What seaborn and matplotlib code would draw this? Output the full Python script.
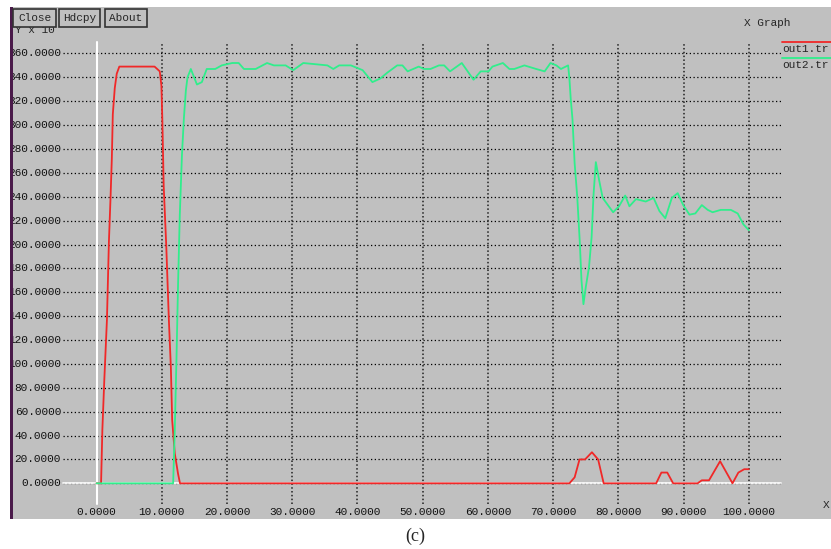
import matplotlib
matplotlib.use("Agg")
import matplotlib.pyplot as plt
import seaborn as sns
from matplotlib.patches import Rectangle

# out1.tr (red)
red_x = [0.0, 0.7, 0.9, 1.2, 1.6, 1.9, 2.15, 2.35, 2.5, 2.8, 3.1, 3.5, 8.9, 9.7, 9.95,
         10.1, 10.3, 10.7, 11.1, 11.4, 11.6, 12.0, 12.5, 12.8, 72.5, 73.3, 74.05, 74.9,
         75.95, 76.9, 77.75, 85.8, 86.6, 87.5, 88.4, 92.15, 92.8, 93.9, 95.6, 97.5, 98.4,
         99.3, 100.0]
red_y = [0, 0, 45, 87, 137, 202, 239, 272, 309, 331, 343, 349, 349, 345, 333,
         303, 249, 198, 136, 97, 53, 25, 8, 0, 0, 5, 20, 20,
         26, 20, 0, 0, 9, 9, 0, 0, 2.5, 2.5, 18.5, 0, 9,
         11.8, 11.8]

# out2.tr (green)
green_x = [0.0, 11.75, 12.0, 12.26, 12.5, 12.77, 13.1, 13.4, 13.7, 13.95, 14.46, 15.4,
           16.15, 16.9, 18.2, 19.2, 20.8, 21.8, 22.6, 24.4, 26.15, 27.2, 29.0, 30.15,
           31.7, 35.4, 36.3, 37.2, 39.0, 40.8, 42.3, 43.5, 44.6, 46.1, 46.9, 47.7, 49.4,
           50.2, 51.2, 52.5, 53.3, 54.2, 56.0, 57.8, 58.9, 60.1, 60.7, 62.3, 63.3, 64.05,
           65.6, 67.4, 68.7, 69.6, 70.5, 71.2, 72.3, 72.5, 72.7, 72.97, 73.3, 73.7, 74.1,
           74.35, 74.65, 75.0, 75.5, 75.9, 76.2, 76.55, 77.05, 77.6, 79.2, 80.1, 81.05,
           81.7, 82.7, 84.2, 85.4, 86.3, 87.2, 88.2, 89.1, 89.95, 90.9, 91.8, 92.8, 93.7,
           94.45, 95.7, 97.25, 98.3, 99.15, 100.0]
green_y = [0, 0, 45, 104, 166, 225, 275, 306, 329, 340, 347, 334,
           336, 347, 347, 350, 352, 352, 347, 347, 352, 350, 350, 346,
           352, 350, 347, 350, 350, 346, 336, 339, 344, 350, 350, 345, 349,
           347, 347, 350, 350, 345, 352, 338, 345, 345, 349, 352, 347, 347,
           350, 347, 345, 352, 350, 347, 350, 339, 322, 305, 268, 240, 201,
           170, 150, 164, 181, 206, 242, 269, 254, 239, 227, 232, 241,
           232, 238, 236, 239, 228, 222, 239, 243, 233, 225, 226, 233, 229,
           227, 229, 229, 226, 217, 212]

x_ticks = [0, 10, 20, 30, 40, 50, 60, 70, 80, 90, 100]
y_ticks = list(range(0, 361, 20))
x_labels = ["%.4f" % v for v in x_ticks]
y_labels = ["%.4f" % v for v in y_ticks]

W, H = 831, 549
BG = "#c0c0c0"
RED = "#f02828"
GREEN = "#30ee8c"
MONO = "Liberation Mono"


def fx(px):
    return px / W


def fy(py):
    return 1 - py / H


sns.set_style("white")
plt.rcParams["font.family"] = ["Liberation Mono", "DejaVu Sans Mono"]

fig = plt.figure(figsize=(W / 100, H / 100), dpi=100)
fig.patch.set_facecolor("white")

# axes covers the whole grey window
ax = fig.add_axes([fx(11), fy(519), fx(831) - fx(11), fy(7) - fy(519)])
ax.set_facecolor(BG)
for s in ax.spines.values():
    s.set_visible(False)
ax.set_xticks([])
ax.set_yticks([])

# pixel -> data mapping of the reference
x0, sx = 96.5, 6.523
y0, sy = 483.3, 1.194
ax.set_xlim((11 - x0) / sx, (831 - x0) / sx)
ax.set_ylim((y0 - 519) / sy, (y0 - 7) / sy)

gx_left, gx_right = (63 - x0) / sx, (781 - x0) / sx
gy_top, gy_bot = (y0 - 42) / sy, (y0 - 504) / sy

for v in y_ticks:
    ax.plot([gx_left, gx_right], [v, v], color="black", lw=0.9,
            ls=(0, (1, 2)), zorder=1)
for v in x_ticks:
    ax.plot([v, v], [gy_bot, gy_top], color="#222222", lw=1.1,
            ls=(0, (1, 1.5)), zorder=1)

# white axis lines
ax.plot([gx_left, gx_right], [0, 0], color="white", lw=1.2, zorder=2)
ax.plot([0, 0], [gy_bot, gy_top], color="white", lw=1.5, zorder=2)

sns.lineplot(x=red_x, y=red_y, color=RED, lw=1.3, ax=ax,
             estimator=None, sort=False, zorder=3)
sns.lineplot(x=green_x, y=green_y, color=GREEN, lw=1.3, ax=ax,
             estimator=None, sort=False, zorder=4)

for v, lab in zip(y_ticks, y_labels):
    ax.text((61 - x0) / sx, v, lab, ha="right", va="center", fontsize=8,
            family=MONO, color="#111111", clip_on=True)
for v, lab in zip(x_ticks, x_labels):
    ax.text(v, (y0 - 512) / sy, lab, ha="center", va="center", fontsize=8,
            family=MONO, color="#111111")

# left window border
fig.patches.append(Rectangle((fx(10), fy(519)), fx(2.5), fy(7) - fy(519),
                             transform=fig.transFigure, facecolor="#4a1a4a",
                             edgecolor="none"))

# title, axis names, legend
fig.text(fx(767), fy(23), "X Graph", ha="center", va="center", fontsize=8, family=MONO)
fig.text(fx(826), fy(505), "X", ha="center", va="center", fontsize=8, family=MONO)
fig.text(fx(15), fy(30), "Y x 10", ha="left", va="center", fontsize=8, family=MONO)
fig.text(fx(63), fy(25), "3", ha="left", va="center", fontsize=6, family=MONO)

fig.add_artist(plt.Line2D([fx(782), fx(831)], [fy(42), fy(42)], color=RED, lw=1.3))
fig.text(fx(782), fy(49), "out1.tr", ha="left", va="center", fontsize=8, family=MONO)
fig.add_artist(plt.Line2D([fx(782), fx(831)], [fy(58), fy(58)], color=GREEN, lw=1.3))
fig.text(fx(782), fy(64.5), "out2.tr", ha="left", va="center", fontsize=8, family=MONO)

# buttons
for (l, r), name in zip([(13, 56), (59, 100), (105, 147)], ["Close", "Hdcpy", "About"]):
    fig.patches.append(Rectangle((fx(l), fy(27)), fx(r) - fx(l), fy(9) - fy(27),
                                 transform=fig.transFigure, facecolor=BG,
                                 edgecolor="#333333", lw=1.2, zorder=5))
    fig.text(fx((l + r) / 2), fy(18), name, ha="center", va="center",
             fontsize=8, family=MONO, zorder=6)

fig.text(fx(415), fy(536), "(c)", ha="center", va="center", fontsize=13,
         family="Liberation Serif")

fig.savefig("out.png", dpi=100)
